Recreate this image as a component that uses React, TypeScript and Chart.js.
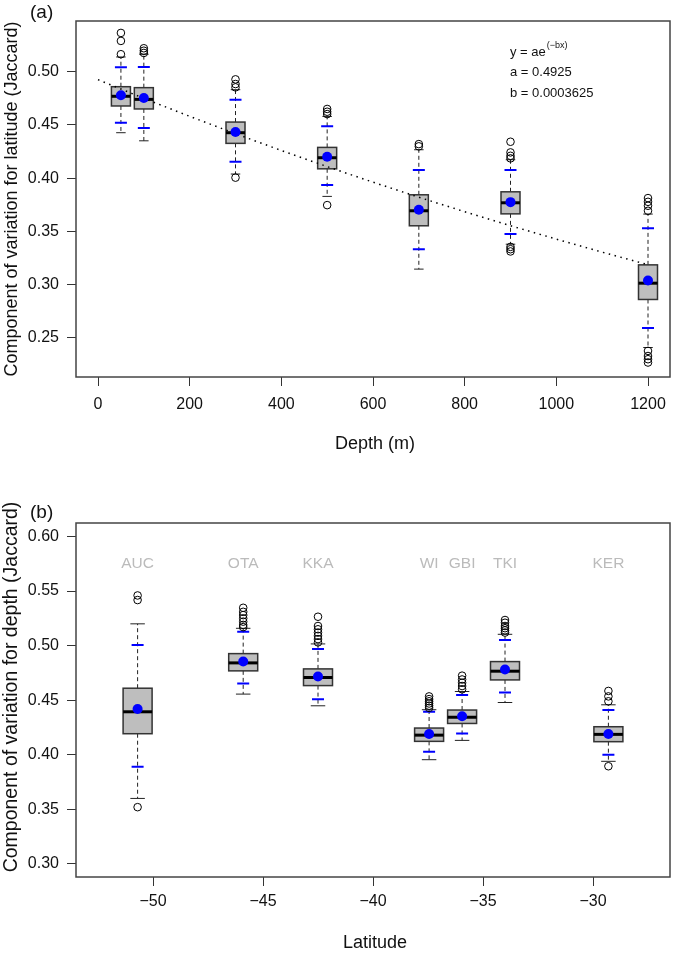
import React, { useEffect, useRef } from "react";
import { Chart, registerables } from "chart.js";

Chart.register(...registerables);

const FONT = "'Liberation Sans', Arial, Helvetica, sans-serif";

// ---------------- Panel (a): depth ----------------
const depthCats = [50, 100, 300, 500, 700, 900, 1200];
const depthWhiskLo = [0.4427, 0.4351, 0.4039, 0.3829, 0.3146, 0.338, 0.241];
const depthQ1 = [0.4678, 0.465, 0.4327, 0.4088, 0.3553, 0.3665, 0.2861];
const depthMedian = [0.4769, 0.474, 0.4427, 0.4192, 0.3694, 0.3769, 0.3014];
const depthQ3 = [0.4859, 0.485, 0.4527, 0.4289, 0.3844, 0.3872, 0.3186];
const depthWhiskHi = [0.5138, 0.5164, 0.4831, 0.458, 0.4267, 0.4173, 0.3663];
const depthMean = [0.4778, 0.4753, 0.4433, 0.4201, 0.3703, 0.3775, 0.304];
const depthBlueLo = [0.4521, 0.4471, 0.4154, 0.3935, 0.3333, 0.3475, 0.2594];
const depthBlueHi = [0.5041, 0.5044, 0.4737, 0.4487, 0.4076, 0.4076, 0.3531];
const depthOutliers = [
  [0.5364, 0.5289, 0.5164],
  [0.522, 0.5197, 0.5176],
  [0.4928, 0.4884, 0.4853, 0.4005],
  [0.465, 0.4624, 0.4602, 0.3747],
  [0.432, 0.4299],
  [0.4342, 0.4242, 0.421, 0.4186, 0.3355, 0.3333, 0.3312],
  [0.3813, 0.3778, 0.3741, 0.3694, 0.2378, 0.233, 0.23, 0.2269],
];
const depthTicksX = [0, 200, 400, 600, 800, 1000, 1200];
const depthTicksY = [0.25, 0.3, 0.35, 0.4, 0.45, 0.5];
const FIT_A = 0.4925;
const FIT_B = 0.0003625;
const fitDepths = [0, 100, 200, 300, 400, 500, 600, 700, 800, 900, 1000, 1100, 1200];

// ---------------- Panel (b): latitude ----------------
const siteLabels = ["AUC", "OTA", "KKA", "WI", "GBI", "TKI", "KER"];
const siteLat = [-50.7, -45.9, -42.5, -37.45, -35.95, -34.0, -29.3];
const siteWhiskLo = [0.36, 0.4556, 0.4449, 0.3955, 0.4132, 0.4479, 0.394];
const siteQ1 = [0.4193, 0.4769, 0.4634, 0.4123, 0.4287, 0.4686, 0.412];
const siteMedian = [0.4394, 0.4842, 0.4708, 0.418, 0.4344, 0.4766, 0.4187];
const siteQ3 = [0.461, 0.4927, 0.4787, 0.4245, 0.441, 0.4854, 0.4257];
const siteWhiskHi = [0.52, 0.5159, 0.5016, 0.4413, 0.458, 0.5104, 0.4458];
const siteMean = [0.4419, 0.4854, 0.4717, 0.419, 0.4353, 0.4781, 0.419];
const siteBlueLo = [0.389, 0.4653, 0.451, 0.4028, 0.4196, 0.457, 0.4001];
const siteBlueHi = [0.5006, 0.5128, 0.497, 0.4395, 0.4547, 0.5052, 0.441];
const siteOutliers = [
  [0.546, 0.5418, 0.352],
  [0.5347, 0.531, 0.528, 0.525, 0.522, 0.519, 0.517],
  [0.5265, 0.518, 0.515, 0.512, 0.509, 0.506, 0.503],
  [0.4535, 0.451, 0.449, 0.447, 0.445, 0.443],
  [0.4725, 0.469, 0.466, 0.463, 0.46],
  [0.5235, 0.521, 0.518, 0.516, 0.514, 0.512],
  [0.4585, 0.4535, 0.449, 0.3895],
];
const latTicksX = [-50, -45, -40, -35, -30];
const latTicksY = [0.3, 0.35, 0.4, 0.45, 0.5, 0.55, 0.6];
const SITE_LABEL_Y = 0.575;

type BoxStats = {
  x: number[];
  lo: number[];
  q1: number[];
  med: number[];
  q3: number[];
  hi: number[];
  blueLo: number[];
  blueHi: number[];
};

function boxPlugin(s: BoxStats, boxW: number) {
  return {
    id: "boxes",
    beforeDatasetsDraw(chart: any) {
      const { ctx, chartArea } = chart;
      const xs = chart.scales.x;
      const ys = chart.scales.y;
      ctx.save();
      ctx.beginPath();
      ctx.rect(chartArea.left, chartArea.top, chartArea.right - chartArea.left, chartArea.bottom - chartArea.top);
      ctx.clip();
      s.x.forEach((xv, i) => {
        const cx = xs.getPixelForValue(xv);
        const yLo = ys.getPixelForValue(s.lo[i]);
        const yQ1 = ys.getPixelForValue(s.q1[i]);
        const yMed = ys.getPixelForValue(s.med[i]);
        const yQ3 = ys.getPixelForValue(s.q3[i]);
        const yHi = ys.getPixelForValue(s.hi[i]);
        const yBL = ys.getPixelForValue(s.blueLo[i]);
        const yBH = ys.getPixelForValue(s.blueHi[i]);
        // whiskers
        ctx.strokeStyle = "#222";
        ctx.lineWidth = 1;
        ctx.setLineDash([4, 3]);
        ctx.beginPath();
        ctx.moveTo(cx, yQ3);
        ctx.lineTo(cx, yHi);
        ctx.moveTo(cx, yQ1);
        ctx.lineTo(cx, yLo);
        ctx.stroke();
        ctx.setLineDash([]);
        // caps
        ctx.beginPath();
        ctx.moveTo(cx - boxW / 4, yHi);
        ctx.lineTo(cx + boxW / 4, yHi);
        ctx.moveTo(cx - boxW / 4, yLo);
        ctx.lineTo(cx + boxW / 4, yLo);
        ctx.stroke();
        // box
        ctx.fillStyle = "#bebebe";
        ctx.fillRect(cx - boxW / 2, yQ3, boxW, yQ1 - yQ3);
        ctx.strokeStyle = "#333";
        ctx.lineWidth = 1.5;
        ctx.strokeRect(cx - boxW / 2, yQ3, boxW, yQ1 - yQ3);
        // median
        ctx.strokeStyle = "#000";
        ctx.lineWidth = 3;
        ctx.beginPath();
        ctx.moveTo(cx - boxW / 2, yMed);
        ctx.lineTo(cx + boxW / 2, yMed);
        ctx.stroke();
        // blue ticks
        ctx.strokeStyle = "#0000ff";
        ctx.lineWidth = 2;
        ctx.beginPath();
        ctx.moveTo(cx - 6, yBL);
        ctx.lineTo(cx + 6, yBL);
        ctx.moveTo(cx - 6, yBH);
        ctx.lineTo(cx + 6, yBH);
        ctx.stroke();
      });
      ctx.restore();
    },
  };
}

function textPlugin(draw: (chart: any) => void) {
  return {
    id: "texts",
    afterDraw(chart: any) {
      const { ctx, chartArea } = chart;
      ctx.save();
      ctx.strokeStyle = "#444";
      ctx.lineWidth = 1.5;
      ctx.strokeRect(chartArea.left, chartArea.top, chartArea.right - chartArea.left, chartArea.bottom - chartArea.top);
      ctx.fillStyle = "#111";
      draw(chart);
      ctx.restore();
    },
  };
}

function scaleCommon(ticks: number[], fmt: (v: number) => string, fitSize: number, isX: boolean, min: number, max: number, pad: number) {
  return {
    type: "linear",
    min,
    max,
    afterBuildTicks: (s: any) => {
      s.ticks = ticks.map((v) => ({ value: v }));
    },
    afterFit: (s: any) => {
      if (isX) s.height = fitSize;
      else s.width = fitSize;
    },
    grid: { drawOnChartArea: false, drawTicks: true, tickLength: 9, color: "#333", lineWidth: 1 },
    border: { display: false },
    ticks: {
      font: { family: FONT, size: 16 },
      color: "#111",
      padding: pad,
      maxRotation: 0,
      autoSkip: false,
      callback: (v: any) => fmt(Number(v)),
    },
  };
}

function pointDatasets(xs: number[], means: number[], outliers: number[][]) {
  return [
    {
      type: "scatter",
      data: xs.map((x, i) => ({ x, y: means[i] })),
      backgroundColor: "#0000ff",
      borderColor: "#0000ff",
      borderWidth: 0,
      pointRadius: 5,
      order: 0,
    },
    {
      type: "scatter",
      data: outliers.flatMap((arr, i) => arr.map((v) => ({ x: xs[i], y: v }))),
      backgroundColor: "rgba(0,0,0,0)",
      borderColor: "#000",
      borderWidth: 1,
      pointRadius: 3.8,
      order: 1,
    },
  ];
}

function PanelA() {
  const ref = useRef<HTMLCanvasElement>(null);
  useEffect(() => {
    const stats: BoxStats = {
      x: depthCats,
      lo: depthWhiskLo,
      q1: depthQ1,
      med: depthMedian,
      q3: depthQ3,
      hi: depthWhiskHi,
      blueLo: depthBlueLo,
      blueHi: depthBlueHi,
    };
    const chart = new Chart(ref.current as HTMLCanvasElement, {
      type: "scatter",
      data: {
        datasets: [
          ...pointDatasets(depthCats, depthMean, depthOutliers),
          {
            type: "line",
            data: fitDepths.map((d) => ({ x: d, y: FIT_A * Math.exp(-FIT_B * d) })),
            borderColor: "#000",
            borderWidth: 1.5,
            borderDash: [1.5, 4.5],
            pointRadius: 0,
            fill: false,
            tension: 0,
            order: 2,
          },
        ] as any,
      },
      options: {
        animation: false,
        responsive: false,
        maintainAspectRatio: false,
        layout: { padding: { top: 21, right: 3, left: 0, bottom: 0 } },
        plugins: { legend: { display: false }, tooltip: { enabled: false } },
        scales: {
          x: scaleCommon(depthTicksX, (v) => String(v), 100, true, -48, 1248, 9),
          y: scaleCommon(depthTicksY, (v) => v.toFixed(2), 76, false, 0.2133, 0.5476, 8),
        } as any,
      },
      plugins: [
        boxPlugin(stats, 19),
        textPlugin((c: any) => {
          const ctx = c.ctx;
          ctx.textAlign = "center";
          ctx.textBaseline = "middle";
          ctx.font = `18px ${FONT}`;
          ctx.fillText("Depth (m)", 375, 444);
          ctx.save();
          ctx.translate(12, 199);
          ctx.rotate(-Math.PI / 2);
          ctx.fillText("Component of variation for latitude (Jaccard)", 0, 0);
          ctx.restore();
          ctx.textAlign = "left";
          ctx.font = `19px ${FONT}`;
          ctx.fillText("(a)", 30, 13);
          ctx.font = `13px ${FONT}`;
          const x0 = 510;
          ctx.fillText("y = ae", x0, 52);
          const w = ctx.measureText("y = ae").width;
          ctx.font = `9px ${FONT}`;
          ctx.fillText("(\u2212bx)", x0 + w + 1, 46);
          ctx.font = `13px ${FONT}`;
          ctx.fillText("a = 0.4925", x0, 72);
          ctx.fillText("b = 0.0003625", x0, 93);
        }),
      ],
    });
    return () => chart.destroy();
  }, []);
  return <canvas ref={ref} width={675} height={477} style={{ display: "block" }} />;
}

function PanelB() {
  const ref = useRef<HTMLCanvasElement>(null);
  useEffect(() => {
    const stats: BoxStats = {
      x: siteLat,
      lo: siteWhiskLo,
      q1: siteQ1,
      med: siteMedian,
      q3: siteQ3,
      hi: siteWhiskHi,
      blueLo: siteBlueLo,
      blueHi: siteBlueHi,
    };
    const chart = new Chart(ref.current as HTMLCanvasElement, {
      type: "scatter",
      data: {
        datasets: pointDatasets(siteLat, siteMean, siteOutliers) as any,
      },
      options: {
        animation: false,
        responsive: false,
        maintainAspectRatio: false,
        layout: { padding: { top: 46, right: 1, left: 0, bottom: 0 } },
        plugins: { legend: { display: false }, tooltip: { enabled: false } },
        scales: {
          x: scaleCommon(latTicksX, (v) => (v < 0 ? "\u2212" + Math.abs(v) : String(v)), 77, true, -53.5, -26.5, 6),
          y: scaleCommon(latTicksY, (v) => v.toFixed(2), 76, false, 0.288, 0.6124, 8),
        } as any,
      },
      plugins: [
        boxPlugin(stats, 29),
        textPlugin((c: any) => {
          const ctx = c.ctx;
          ctx.textAlign = "center";
          ctx.textBaseline = "middle";
          ctx.font = `18px ${FONT}`;
          ctx.fillText("Latitude", 375, 466);
          ctx.save();
          ctx.translate(12, 210);
          ctx.rotate(-Math.PI / 2);
          ctx.font = `19.5px ${FONT}`;
          ctx.fillText("Component of variation for depth (Jaccard)", 0, 0);
          ctx.restore();
          ctx.textAlign = "left";
          ctx.font = `19px ${FONT}`;
          ctx.fillText("(b)", 30, 36);
          ctx.textAlign = "center";
          ctx.font = `15.5px ${FONT}`;
          ctx.fillStyle = "#bbbbbb";
          const xs = c.scales.x;
          const ys = c.scales.y;
          siteLabels.forEach((lab, i) => {
            ctx.fillText(lab, xs.getPixelForValue(siteLat[i]), ys.getPixelForValue(SITE_LABEL_Y));
          });
        }),
      ],
    });
    return () => chart.destroy();
  }, []);
  return <canvas ref={ref} width={675} height={477} style={{ display: "block" }} />;
}

export default function App() {
  return (
    <div style={{ position: "absolute", left: 0, top: 0, width: 675, height: 954, background: "#fff" }}>
      <PanelA />
      <PanelB />
    </div>
  );
}
